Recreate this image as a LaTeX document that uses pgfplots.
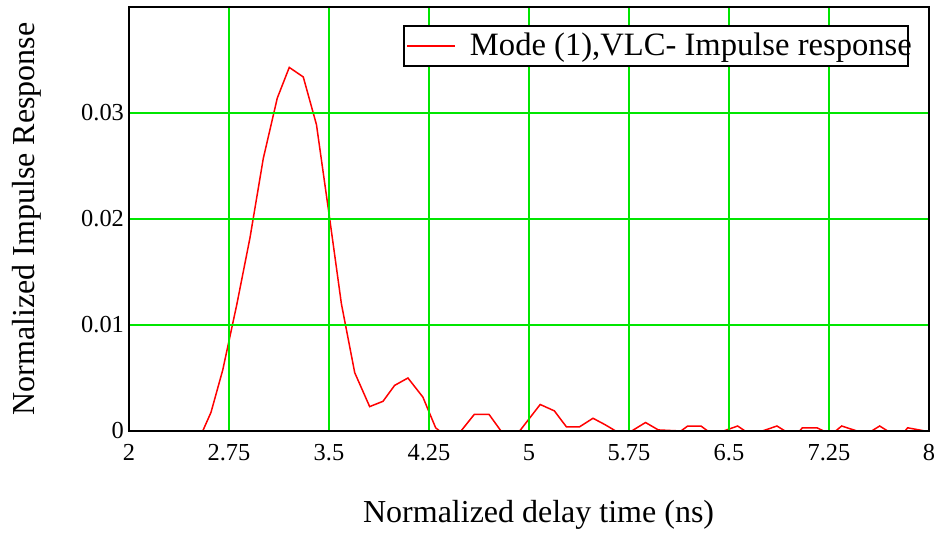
\documentclass[border=0pt]{standalone}
\usepackage{pgfplots}
\pgfplotsset{compat=1.18}
\usepackage{fontspec}
\setmainfont{Liberation Serif}
\definecolor{gridgreen}{RGB}{0,230,0}
\begin{document}
\begin{tikzpicture}
\useasboundingbox (0,0) rectangle (468.5pt,266.5pt);
\begin{axis}[
  at={(64.5pt,51pt)}, anchor=south west,
  scale only axis,
  width=400pt, height=212pt,
  xmin=2, xmax=8, ymin=0, ymax=0.04,
  xtick={2,2.75,3.5,4.25,5,5.75,6.5,7.25,8},
  xticklabels={2,2.75,3.5,4.25,5,5.75,6.5,7.25,8},
  ytick={0,0.01,0.02,0.03},
  yticklabels={0,0.01,0.02,0.03},
  major tick length=0pt,
  grid=major,
  major grid style={gridgreen, line width=1pt},
  axis line style={black, line width=1pt},
  axis on top,
  tick label style={font=\fontsize{12.2}{14}\selectfont},
  xticklabel style={yshift=-3pt},
  yticklabel style={xshift=1pt},
  xlabel={Normalized delay time (ns)},
  ylabel={Normalized Impulse Response},
  label style={font=\fontsize{16}{19}\selectfont},
  xlabel style={at={(axis description cs:0.512,-0.198)}, anchor=center},
  ylabel style={at={(axis description cs:-0.128,0.5)}, anchor=center},
  legend style={at={(axis description cs:0.975,0.957)}, anchor=north east,
    draw=black, line width=1pt, font=\fontsize{16.3}{19}\selectfont,
    inner ysep=1.5pt, inner xsep=1pt},
  legend image code/.code={\draw[#1, line width=0.75pt] (0pt,0pt) -- (24pt,0pt);},
]
\addplot[red, line width=0.75pt] coordinates {
(2,0) (2.553,0) (2.615,0.00176) (2.703,0.00575) (2.808,0.0119) (2.907,0.0182)
(3.007,0.0257) (3.112,0.0314) (3.202,0.0343) (3.307,0.0334) (3.406,0.0289)
(3.5,0.0205) (3.593,0.0120) (3.693,0.0055) (3.805,0.0023) (3.905,0.0028)
(3.992,0.0043) (4.092,0.0050) (4.204,0.0032) (4.30,0.0003) (4.33,0)
(4.49,0) (4.59,0.00157) (4.70,0.00157) (4.79,0) (4.93,0) (5.084,0.0025)
(5.19,0.0019) (5.28,0.0004) (5.38,0.0004) (5.48,0.0012) (5.57,0.0006)
(5.65,0) (5.77,0) (5.874,0.0008) (5.97,0.0001) (6.14,0) (6.19,0.00047)
(6.29,0.00047) (6.34,0) (6.46,0) (6.565,0.00047) (6.62,0) (6.75,0)
(6.86,0.00047) (6.92,0) (7.03,0) (7.05,0.0003) (7.16,0.0003) (7.21,0)
(7.30,0) (7.345,0.00047) (7.46,0) (7.57,0) (7.63,0.00047) (7.69,0)
(7.82,0) (7.84,0.0003) (7.97,0) (8,0)
};
\addlegendentry{\hspace*{5pt}\makebox[216pt][l]{Mode (1),VLC- Impulse response}}
\end{axis}
\end{tikzpicture}
\end{document}
